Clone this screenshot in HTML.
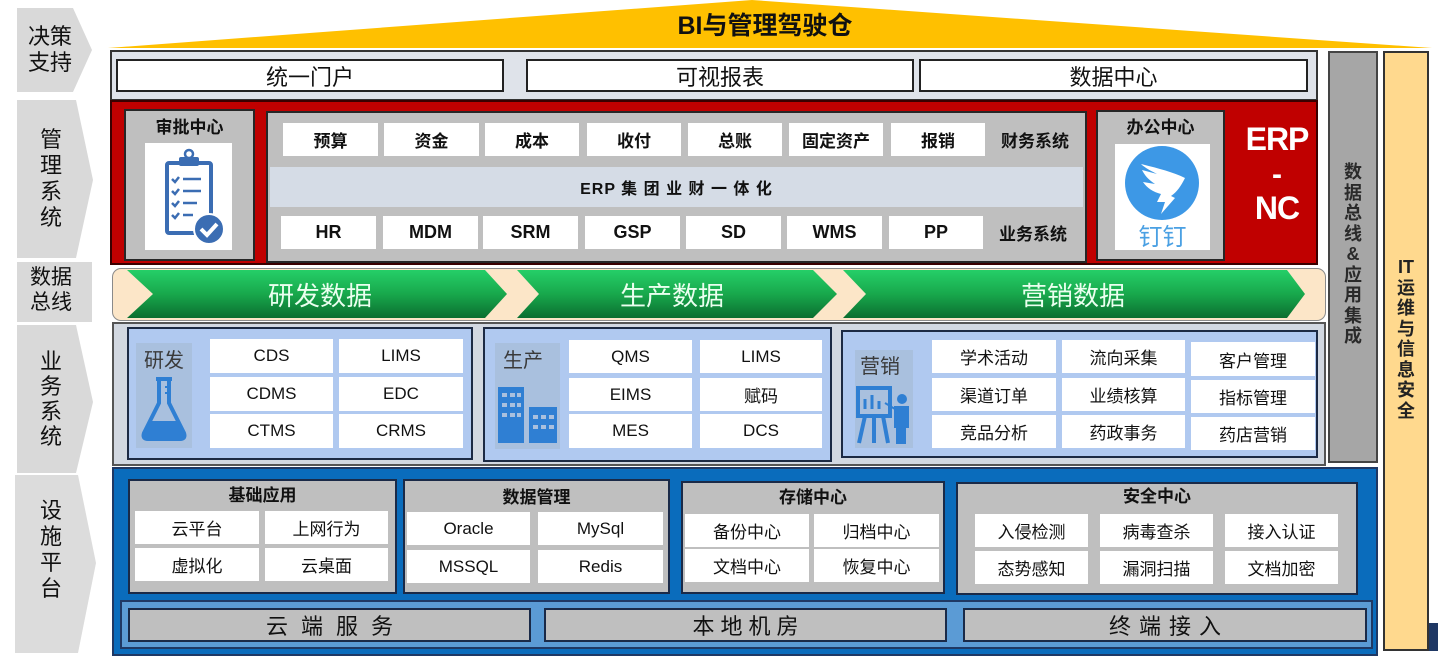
<!DOCTYPE html>
<html><head><meta charset="utf-8">
<style>
*{margin:0;padding:0;box-sizing:border-box;}
html,body{width:1438px;height:658px;background:#fff;overflow:hidden;}
body{position:relative;font-family:"Liberation Sans","Noto Sans CJK SC",sans-serif;color:#111;}
.a{position:absolute;}
.c{position:absolute;display:flex;align-items:center;justify-content:center;white-space:nowrap;}
.w{background:#fff;}
.fb{font-weight:bold;font-size:17px;}
.fn{font-size:17px;}
.gb{background:#bfbfbf;border:2px solid #262626;}
.lb{background:#b0c9f0;border:2px solid #1c2a44;}
.vt{position:absolute;display:flex;flex-direction:column;align-items:center;font-weight:bold;font-size:18px;line-height:20.5px;color:#222;}
</style></head><body>

<!-- left chevrons -->
<svg class="a" style="left:0;top:0" width="100" height="658">
<polygon points="17,8 73,8 92,50 73,92 17,92" fill="#d9d9d9"/>
<polygon points="17,100 76,100 93,180 76,258 17,258" fill="#d9d9d9"/>
<rect x="17" y="262" width="75" height="60" fill="#d9d9d9"/>
<polygon points="17,325 76,325 93,402 76,473 17,473" fill="#d9d9d9"/>
<polygon points="15,475 78,475 96,563 78,653 15,653" fill="#dcdcdc"/>
</svg>
<div class="a" style="left:17px;top:24px;width:66px;text-align:center;font-size:22px;line-height:26px;">决策<br>支持</div>
<div class="a" style="left:17px;top:127px;width:68px;text-align:center;font-size:22px;line-height:26px;">管<br>理<br>系<br>统</div>
<div class="a" style="left:17px;top:265px;width:68px;text-align:center;font-size:21px;line-height:25px;">数据<br>总线</div>
<div class="a" style="left:17px;top:349px;width:68px;text-align:center;font-size:22px;line-height:25px;">业<br>务<br>系<br>统</div>
<div class="a" style="left:17px;top:498px;width:68px;text-align:center;font-size:22px;line-height:26px;">设<br>施<br>平<br>台</div>

<!-- BI triangle -->
<svg class="a" style="left:0;top:0" width="1438" height="50">
<polygon points="108,48 752,0 1432,48" fill="#ffc000"/>
</svg>
<div class="c" style="left:650px;top:8px;width:230px;height:32px;font-size:25px;font-weight:bold;color:#111;">BI与管理驾驶仓</div>

<!-- top panel -->
<div class="a" style="left:110px;top:50px;width:1208px;height:51px;background:#dfe3ea;border:2px solid #333;"></div>
<div class="c w" style="left:116px;top:59px;width:388px;height:33px;border:2px solid #222;font-size:22px;">统一门户</div>
<div class="c w" style="left:526px;top:59px;width:388px;height:33px;border:2px solid #222;font-size:22px;">可视报表</div>
<div class="c w" style="left:919px;top:59px;width:389px;height:33px;border:2px solid #222;font-size:22px;">数据中心</div>

<!-- right columns -->
<div class="a" style="left:1328px;top:51px;width:50px;height:412px;background:#a6a6a6;border:2px solid #444;"></div>
<div class="vt" style="left:1328px;top:162px;width:50px;color:#2a2a2a;"><span>数</span><span>据</span><span>总</span><span>线</span><span>&amp;</span><span>应</span><span>用</span><span>集</span><span>成</span></div>
<div class="a" style="left:1383px;top:51px;width:46px;height:600px;background:#ffd98e;border:2px solid #333;"></div>
<div class="vt" style="left:1383px;top:257px;width:46px;"><span>IT</span><span>运</span><span>维</span><span>与</span><span>信</span><span>息</span><span>安</span><span>全</span></div>
<div class="a" style="left:1429px;top:623px;width:9px;height:28px;background:#1f3864;"></div>

<!-- red panel -->
<div class="a" style="left:110px;top:100px;width:1208px;height:165px;background:#c00000;border:2px solid #3a0000;"></div>
<div class="a gb" style="left:124px;top:109px;width:131px;height:152px;"></div>
<div class="c fb" style="left:124px;top:113px;width:131px;height:24px;">审批中心</div>
<div class="a w" style="left:145px;top:143px;width:87px;height:107px;">
<svg width="87" height="107">
<rect x="22" y="20" width="44" height="70" rx="2" fill="none" stroke="#3b6db3" stroke-width="4"/>
<rect x="34" y="14" width="20" height="9" rx="2" fill="#3b6db3"/>
<circle cx="44" cy="11" r="4" fill="none" stroke="#3b6db3" stroke-width="2.5"/>
<g stroke="#3b6db3" stroke-width="2.5">
<line x1="38" y1="36" x2="56" y2="36"/><line x1="38" y1="48" x2="56" y2="48"/><line x1="38" y1="60" x2="52" y2="60"/><line x1="38" y1="72" x2="48" y2="72"/>
<path d="M27 36 l3 3 l4 -5 M27 48 l3 3 l4 -5 M27 60 l3 3 l4 -5 M27 72 l3 3 l4 -5" fill="none"/>
</g>
<circle cx="64" cy="86" r="15" fill="#3b6db3" stroke="#fff" stroke-width="2"/>
<path d="M56 86 l6 6 l10 -11" stroke="#fff" stroke-width="4" fill="none"/>
</svg></div>

<div class="a gb" style="left:266px;top:111px;width:821px;height:152px;"></div>
<div class="c w fb" style="left:283px;top:123px;width:95px;height:33px;">预算</div>
<div class="c w fb" style="left:384px;top:123px;width:95px;height:33px;">资金</div>
<div class="c w fb" style="left:485px;top:123px;width:94px;height:33px;">成本</div>
<div class="c w fb" style="left:587px;top:123px;width:94px;height:33px;">收付</div>
<div class="c w fb" style="left:688px;top:123px;width:94px;height:33px;">总账</div>
<div class="c w fb" style="left:789px;top:123px;width:94px;height:33px;">固定资产</div>
<div class="c w fb" style="left:891px;top:123px;width:94px;height:33px;">报销</div>
<div class="c fb" style="left:993px;top:123px;width:84px;height:33px;">财务系统</div>
<div class="c" style="left:270px;top:167px;width:813px;height:40px;background:#d5dce6;font-weight:bold;font-size:16px;letter-spacing:1px;">ERP 集 团 业 财 一 体 化</div>
<div class="c w fb" style="left:281px;top:216px;width:95px;height:33px;font-size:18px;">HR</div>
<div class="c w fb" style="left:383px;top:216px;width:95px;height:33px;font-size:18px;">MDM</div>
<div class="c w fb" style="left:483px;top:216px;width:95px;height:33px;font-size:18px;">SRM</div>
<div class="c w fb" style="left:585px;top:216px;width:95px;height:33px;font-size:18px;">GSP</div>
<div class="c w fb" style="left:686px;top:216px;width:95px;height:33px;font-size:18px;">SD</div>
<div class="c w fb" style="left:787px;top:216px;width:95px;height:33px;font-size:18px;">WMS</div>
<div class="c w fb" style="left:889px;top:216px;width:94px;height:33px;font-size:18px;">PP</div>
<div class="c fb" style="left:991px;top:216px;width:84px;height:33px;">业务系统</div>

<div class="a gb" style="left:1096px;top:110px;width:129px;height:151px;"></div>
<div class="c fb" style="left:1096px;top:113px;width:129px;height:24px;">办公中心</div>
<div class="a w" style="left:1115px;top:144px;width:95px;height:106px;">
<svg width="95" height="106">
<circle cx="47" cy="39" r="37" fill="#3d98e6"/>
<path d="M26 20 C42 24 58 28 70 34 C66 42 62 48 56 52 L60 54 L46 70 L50 58 L42 58 L46 50 C38 48 32 44 28 38 L40 40 C34 36 30 32 27 26 L42 30 C36 27 30 24 26 20Z" fill="#fff"/>
</svg></div>
<div class="c" style="left:1115px;top:220px;width:95px;height:28px;font-size:24px;color:#4aa0e3;">钉钉</div>
<div class="c" style="left:1232px;top:120px;width:90px;height:38px;color:#fff;font-weight:bold;font-size:32px;letter-spacing:-1px;">ERP</div>
<div class="c" style="left:1232px;top:158px;width:90px;height:34px;color:#fff;font-weight:bold;font-size:30px;">-</div>
<div class="c" style="left:1232px;top:189px;width:90px;height:38px;color:#fff;font-weight:bold;font-size:32px;letter-spacing:-1px;">NC</div>

<!-- data bus -->
<div class="a" style="left:112px;top:268px;width:1214px;height:53px;background:#fce6c8;border:1px solid #8a8a8a;border-radius:9px;"></div>
<svg class="a" style="left:0;top:0" width="1438" height="330">
<defs><linearGradient id="g" x1="0" y1="0" x2="0" y2="1">
<stop offset="0" stop-color="#25cf68"/><stop offset="0.5" stop-color="#18a84c"/><stop offset="1" stop-color="#0b6e30"/></linearGradient></defs>
<polygon points="127,270 485,270 507,294 485,318 127,318 153,294" fill="url(#g)"/>
<polygon points="517,270 813,270 837,294 813,318 517,318 539,294" fill="url(#g)"/>
<polygon points="843,270 1287,270 1305,294 1287,318 843,318 866,294" fill="url(#g)"/>
</svg>
<div class="c" style="left:240px;top:272px;width:160px;height:44px;color:#eaffef;font-size:26px;">研发数据</div>
<div class="c" style="left:592px;top:272px;width:160px;height:44px;color:#eaffef;font-size:26px;">生产数据</div>
<div class="c" style="left:993px;top:272px;width:160px;height:44px;color:#eaffef;font-size:26px;">营销数据</div>

<!-- business systems -->
<div class="a" style="left:112px;top:322px;width:1214px;height:144px;background:#d2d8e1;border:2px solid #555;"></div>
<div class="a lb" style="left:127px;top:327px;width:346px;height:133px;"></div>
<div class="a lb" style="left:483px;top:327px;width:349px;height:135px;"></div>
<div class="a lb" style="left:841px;top:330px;width:477px;height:128px;"></div>

<div class="a" style="left:136px;top:343px;width:56px;height:105px;background:#a9c0de;"></div>
<div class="c" style="left:136px;top:345px;width:56px;height:26px;font-size:20px;color:#3a3a3a;">研发</div>
<svg class="a" style="left:136px;top:375px" width="56" height="70">
<path d="M20 4 h16 M23 4 v24 L8 58 Q6 64 12 64 h32 Q50 64 48 58 L33 28 V4" fill="none" stroke="#2f7fd3" stroke-width="4"/>
<path d="M14 46 h28 l6 12 q1 5 -4 5 h-32 q-5 0 -4 -5z" fill="#2f7fd3"/>
<line x1="29" y1="12" x2="33" y2="12" stroke="#2f7fd3" stroke-width="2"/><line x1="29" y1="18" x2="33" y2="18" stroke="#2f7fd3" stroke-width="2"/>
</svg>
<div class="c w fn" style="left:210px;top:339px;width:123px;height:34px;">CDS</div>
<div class="c w fn" style="left:339px;top:339px;width:124px;height:34px;">LIMS</div>
<div class="c w fn" style="left:210px;top:377px;width:123px;height:34px;">CDMS</div>
<div class="c w fn" style="left:339px;top:377px;width:124px;height:34px;">EDC</div>
<div class="c w fn" style="left:210px;top:414px;width:123px;height:34px;">CTMS</div>
<div class="c w fn" style="left:339px;top:414px;width:124px;height:34px;">CRMS</div>

<div class="a" style="left:495px;top:343px;width:65px;height:106px;background:#a9c0de;"></div>
<div class="c" style="left:495px;top:345px;width:56px;height:26px;font-size:20px;color:#3a3a3a;">生产</div>
<svg class="a" style="left:495px;top:385px" width="65" height="62">
<rect x="3" y="2" width="26" height="56" fill="#2f7fd3"/>
<rect x="34" y="22" width="28" height="36" fill="#2f7fd3"/>
<g fill="#a9c0de"><rect x="7" y="8" width="5" height="4"/><rect x="15" y="8" width="5" height="4"/><rect x="22" y="8" width="4" height="4"/>
<rect x="7" y="18" width="5" height="4"/><rect x="15" y="18" width="5" height="4"/><rect x="22" y="18" width="4" height="4"/>
<rect x="7" y="28" width="5" height="4"/><rect x="15" y="28" width="5" height="4"/><rect x="22" y="28" width="4" height="4"/>
<rect x="38" y="30" width="5" height="4"/><rect x="46" y="30" width="5" height="4"/><rect x="54" y="30" width="5" height="4"/>
<rect x="38" y="40" width="5" height="4"/><rect x="46" y="40" width="5" height="4"/><rect x="54" y="40" width="5" height="4"/></g>
</svg>
<div class="c w fn" style="left:569px;top:340px;width:123px;height:33px;">QMS</div>
<div class="c w fn" style="left:700px;top:340px;width:122px;height:33px;">LIMS</div>
<div class="c w fn" style="left:569px;top:378px;width:123px;height:33px;">EIMS</div>
<div class="c w fn" style="left:700px;top:378px;width:122px;height:33px;">赋码</div>
<div class="c w fn" style="left:569px;top:414px;width:123px;height:34px;">MES</div>
<div class="c w fn" style="left:700px;top:414px;width:122px;height:34px;">DCS</div>

<div class="a" style="left:855px;top:350px;width:58px;height:98px;background:#a9c0de;"></div>
<div class="c" style="left:855px;top:351px;width:50px;height:26px;font-size:20px;color:#3a3a3a;">营销</div>
<svg class="a" style="left:855px;top:385px" width="60" height="62">
<rect x="3" y="3" width="32" height="28" fill="none" stroke="#2f7fd3" stroke-width="4"/>
<path d="M10 24 v-10 M17 24 v-14 M24 24 v-8" stroke="#2f7fd3" stroke-width="3"/>
<path d="M10 31 L4 58 M28 31 L33 58 M19 31 v27" stroke="#2f7fd3" stroke-width="4"/>
<circle cx="47" cy="14" r="5" fill="#2f7fd3"/>
<path d="M40 22 h13 v20 h-3 v16 h-3 v-14 h-2 v14 h-3 v-16 h-2z M40 24 L30 18" fill="#2f7fd3" stroke="#2f7fd3" stroke-width="2"/>
</svg>
<div class="c w fn" style="left:932px;top:340px;width:124px;height:33px;">学术活动</div>
<div class="c w fn" style="left:1062px;top:340px;width:123px;height:33px;">流向采集</div>
<div class="c w fn" style="left:1191px;top:342px;width:124px;height:34px;">客户管理</div>
<div class="c w fn" style="left:932px;top:378px;width:124px;height:33px;">渠道订单</div>
<div class="c w fn" style="left:1062px;top:378px;width:123px;height:33px;">业绩核算</div>
<div class="c w fn" style="left:1191px;top:380px;width:124px;height:33px;">指标管理</div>
<div class="c w fn" style="left:932px;top:415px;width:124px;height:33px;">竞品分析</div>
<div class="c w fn" style="left:1062px;top:415px;width:123px;height:33px;">药政事务</div>
<div class="c w fn" style="left:1191px;top:417px;width:124px;height:33px;">药店营销</div>

<!-- infrastructure -->
<div class="a" style="left:112px;top:467px;width:1266px;height:189px;background:#0a6cbc;border:2px solid #1f3864;"></div>
<div class="a gb" style="left:128px;top:479px;width:269px;height:115px;border-color:#1a2a48;"></div>
<div class="c fb" style="left:128px;top:481px;width:269px;height:24px;">基础应用</div>
<div class="c w fn" style="left:135px;top:511px;width:124px;height:33px;">云平台</div>
<div class="c w fn" style="left:265px;top:511px;width:123px;height:33px;">上网行为</div>
<div class="c w fn" style="left:135px;top:548px;width:124px;height:33px;">虚拟化</div>
<div class="c w fn" style="left:265px;top:548px;width:123px;height:33px;">云桌面</div>

<div class="a gb" style="left:403px;top:479px;width:267px;height:115px;border-color:#1a2a48;"></div>
<div class="c fb" style="left:403px;top:483px;width:267px;height:24px;">数据管理</div>
<div class="c w fn" style="left:407px;top:512px;width:123px;height:33px;">Oracle</div>
<div class="c w fn" style="left:538px;top:512px;width:125px;height:33px;">MySql</div>
<div class="c w fn" style="left:407px;top:550px;width:123px;height:33px;">MSSQL</div>
<div class="c w fn" style="left:538px;top:550px;width:125px;height:33px;">Redis</div>

<div class="a gb" style="left:681px;top:481px;width:264px;height:113px;border-color:#1a2a48;"></div>
<div class="c fb" style="left:681px;top:483px;width:264px;height:24px;">存储中心</div>
<div class="c w fn" style="left:685px;top:514px;width:124px;height:33px;">备份中心</div>
<div class="c w fn" style="left:814px;top:514px;width:125px;height:33px;">归档中心</div>
<div class="c w fn" style="left:685px;top:549px;width:124px;height:33px;">文档中心</div>
<div class="c w fn" style="left:814px;top:549px;width:125px;height:33px;">恢复中心</div>

<div class="a gb" style="left:956px;top:482px;width:402px;height:113px;border-color:#1a2a48;"></div>
<div class="c fb" style="left:956px;top:482px;width:402px;height:24px;">安全中心</div>
<div class="c w fn" style="left:975px;top:514px;width:113px;height:33px;">入侵检测</div>
<div class="c w fn" style="left:1100px;top:514px;width:113px;height:33px;">病毒查杀</div>
<div class="c w fn" style="left:1225px;top:514px;width:113px;height:33px;">接入认证</div>
<div class="c w fn" style="left:975px;top:551px;width:113px;height:33px;">态势感知</div>
<div class="c w fn" style="left:1100px;top:551px;width:113px;height:33px;">漏洞扫描</div>
<div class="c w fn" style="left:1225px;top:551px;width:113px;height:33px;">文档加密</div>

<div class="a" style="left:120px;top:600px;width:1253px;height:49px;background:#5b9bd5;border:2px solid #1f3864;"></div>
<div class="c gb" style="left:128px;top:608px;width:403px;height:34px;border-color:#1a2a48;font-size:22px;letter-spacing:13px;padding-left:13px;">云端服务</div>
<div class="c gb" style="left:544px;top:608px;width:403px;height:34px;border-color:#1a2a48;font-size:22px;letter-spacing:6px;padding-left:6px;">本地机房</div>
<div class="c gb" style="left:963px;top:608px;width:404px;height:34px;border-color:#1a2a48;font-size:22px;letter-spacing:8px;padding-left:8px;">终端接入</div>

</body></html>
